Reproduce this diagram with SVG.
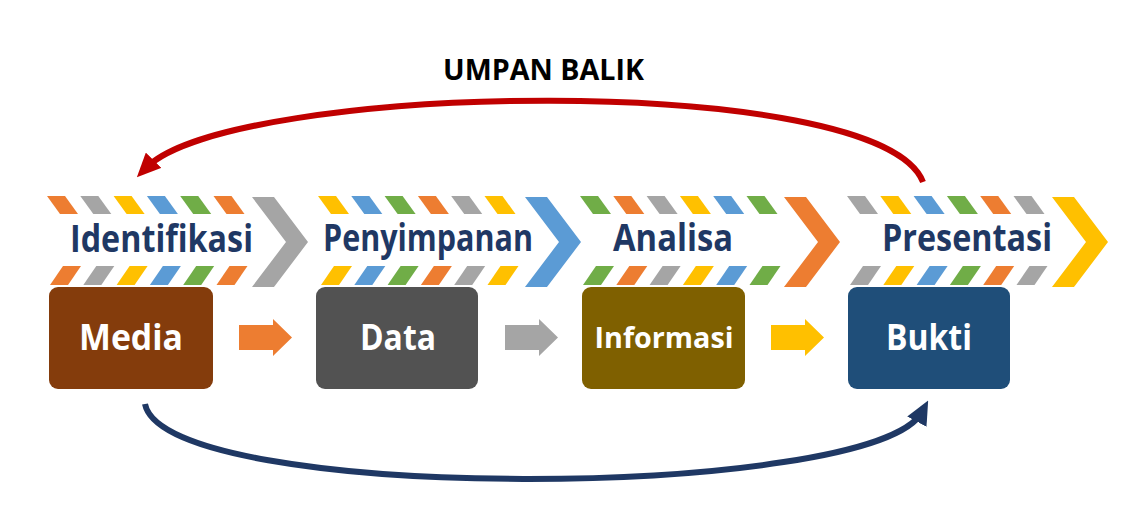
<svg xmlns="http://www.w3.org/2000/svg" xmlns:xlink="http://www.w3.org/1999/xlink" width="1125" height="513" viewBox="0 0 1125 513">
<style>
.o{fill:#ED7D31}.g{fill:#A5A5A5}.y{fill:#FFC000}.b{fill:#5B9BD5}.gr{fill:#70AD47}
.lbl{font-family:"Open Sans","Noto Sans",sans-serif;font-weight:700;font-size:37px;fill:#1F3864}
.box{font-family:"Open Sans","Noto Sans",sans-serif;font-weight:700;fill:#FFFFFF;text-anchor:middle}
.title{font-family:"Open Sans","Noto Sans",sans-serif;font-weight:700;font-size:28px;fill:#000000}
.arc{fill:none;stroke-width:6}
</style>
<defs>
<path id="st" d="M0,0 h18 L31,18 H13 z"/>
<path id="sb" d="M16,0 h18 L21,19 H3 z"/>
<path id="chev" d="M0,0 h22 l34,45 l-34,45 h-22 l34,-45 z"/>
<path id="blk" d="M0,6 h34 v-6 l19,18.5 l-19,18.5 v-6 h-34 z"/>
<marker id="mr" markerUnits="userSpaceOnUse" markerWidth="24" markerHeight="22" refX="10" refY="10" orient="auto" viewBox="0 0 22 20">
<path d="M0,0 L22,10 L0,20 z" fill="#C00000"/>
</marker>
<marker id="mb" markerUnits="userSpaceOnUse" markerWidth="24" markerHeight="22" refX="10" refY="10" orient="auto" viewBox="0 0 22 20">
<path d="M0,0 L22,10 L0,20 z" fill="#1F3864"/>
</marker>
</defs>
<rect width="1125" height="513" fill="#FFFFFF"/>

<g id="title"><text class="title" x="443" y="80" textLength="201" lengthAdjust="spacingAndGlyphs">UMPAN BALIK</text></g>

<g id="stage-identifikasi">
<use href="#st" x="47" y="196" class="o"/><use href="#st" x="80.3" y="196" class="g"/><use href="#st" x="113.6" y="196" class="y"/><use href="#st" x="146.9" y="196" class="b"/><use href="#st" x="180.2" y="196" class="gr"/><use href="#st" x="213.5" y="196" class="o"/>
<use href="#sb" x="47" y="266" class="o"/><use href="#sb" x="80.3" y="266" class="g"/><use href="#sb" x="113.6" y="266" class="y"/><use href="#sb" x="146.9" y="266" class="b"/><use href="#sb" x="180.2" y="266" class="gr"/><use href="#sb" x="213.5" y="266" class="o"/>
<use href="#chev" x="252" y="197" class="g"/>
<text class="lbl" x="70" y="252" textLength="183" lengthAdjust="spacingAndGlyphs">Identifikasi</text>
</g>

<g id="stage-penyimpanan">
<use href="#st" x="318" y="196" class="y"/><use href="#st" x="351.3" y="196" class="b"/><use href="#st" x="384.6" y="196" class="gr"/><use href="#st" x="417.9" y="196" class="o"/><use href="#st" x="451.2" y="196" class="g"/><use href="#st" x="484.5" y="196" class="y"/>
<use href="#sb" x="318" y="266" class="y"/><use href="#sb" x="351.3" y="266" class="b"/><use href="#sb" x="384.6" y="266" class="gr"/><use href="#sb" x="417.9" y="266" class="o"/><use href="#sb" x="451.2" y="266" class="g"/><use href="#sb" x="484.5" y="266" class="y"/>
<use href="#chev" x="525" y="197" class="b"/>
<text class="lbl" x="323" y="251" textLength="210" lengthAdjust="spacingAndGlyphs">Penyimpanan</text>
</g>

<g id="stage-analisa">
<use href="#st" x="580" y="196" class="gr"/><use href="#st" x="613.3" y="196" class="o"/><use href="#st" x="646.6" y="196" class="g"/><use href="#st" x="679.9" y="196" class="y"/><use href="#st" x="713.2" y="196" class="b"/><use href="#st" x="746.5" y="196" class="gr"/>
<use href="#sb" x="580" y="266" class="gr"/><use href="#sb" x="613.3" y="266" class="o"/><use href="#sb" x="646.6" y="266" class="g"/><use href="#sb" x="679.9" y="266" class="y"/><use href="#sb" x="713.2" y="266" class="b"/><use href="#sb" x="746.5" y="266" class="gr"/>
<use href="#chev" x="784" y="197" class="o"/>
<text class="lbl" x="613" y="251" textLength="120" lengthAdjust="spacingAndGlyphs">Analisa</text>
</g>

<g id="stage-presentasi">
<use href="#st" x="847" y="196" class="g"/><use href="#st" x="880.3" y="196" class="y"/><use href="#st" x="913.6" y="196" class="b"/><use href="#st" x="946.9" y="196" class="gr"/><use href="#st" x="980.2" y="196" class="o"/><use href="#st" x="1013.5" y="196" class="g"/>
<use href="#sb" x="847" y="266" class="g"/><use href="#sb" x="880.3" y="266" class="y"/><use href="#sb" x="913.6" y="266" class="b"/><use href="#sb" x="946.9" y="266" class="gr"/><use href="#sb" x="980.2" y="266" class="o"/><use href="#sb" x="1013.5" y="266" class="g"/>
<use href="#chev" x="1052" y="197" class="y"/>
<text class="lbl" x="882" y="251" textLength="170" lengthAdjust="spacingAndGlyphs">Presentasi</text>
</g>

<g id="node-media">
<rect x="49" y="287" width="164" height="102" rx="9" fill="#843C0C"/>
<text class="box" x="131" y="350" font-size="36" textLength="104" lengthAdjust="spacingAndGlyphs">Media</text>
</g>
<g id="node-data">
<rect x="316" y="287" width="162" height="102" rx="9" fill="#525252"/>
<text class="box" x="398" y="350" font-size="36" textLength="76" lengthAdjust="spacingAndGlyphs">Data</text>
</g>
<g id="node-informasi">
<rect x="582" y="287" width="163" height="102" rx="9" fill="#7F6000"/>
<text class="box" x="664" y="348" font-size="28" textLength="139" lengthAdjust="spacingAndGlyphs">Informasi</text>
</g>
<g id="node-bukti">
<rect x="848" y="287" width="162" height="102" rx="9" fill="#1F4E79"/>
<text class="box" x="929" y="350" font-size="36" textLength="86" lengthAdjust="spacingAndGlyphs">Bukti</text>
</g>

<g id="connectors">
<use href="#blk" x="239" y="319" class="o"/>
<use href="#blk" x="505" y="319" class="g"/>
<use href="#blk" x="771" y="319" class="y"/>
<path class="arc" stroke="#C00000" d="M923,182 C880,70 230,82 146,168" marker-end="url(#mr)"/>
<path class="arc" stroke="#1F3864" d="M145,404 C165,505 875,500 922,412" marker-end="url(#mb)"/>
</g>
</svg>
